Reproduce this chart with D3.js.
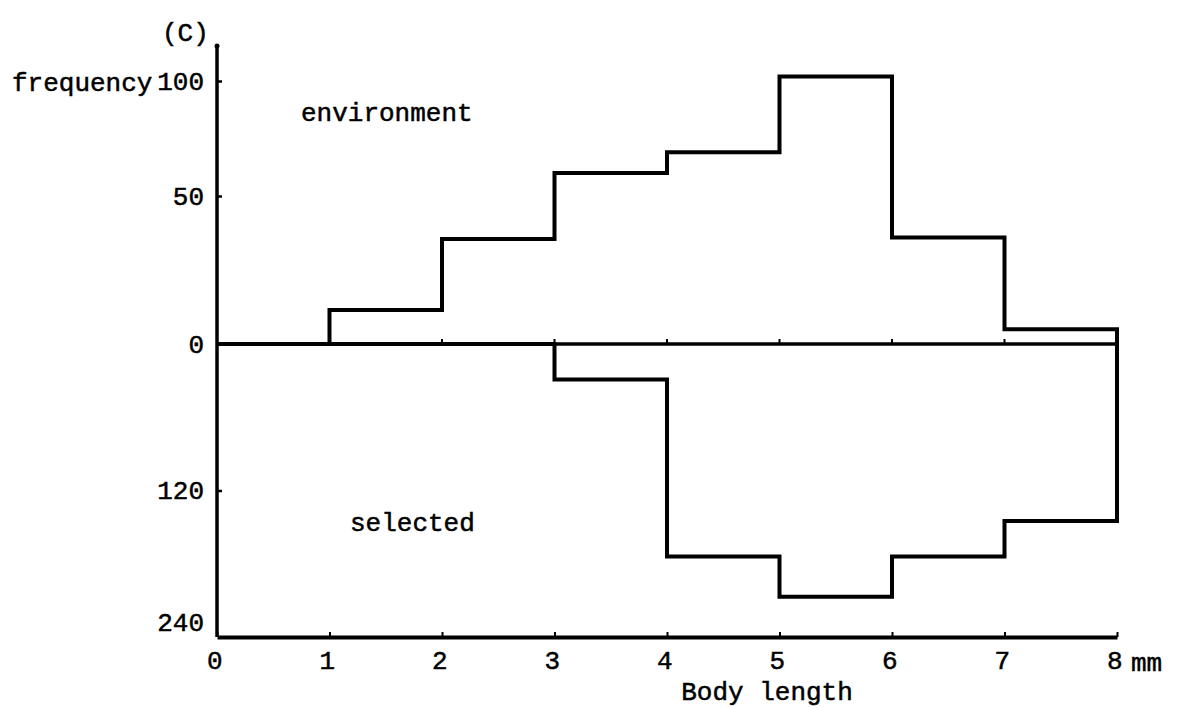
<!DOCTYPE html>
<html>
<head>
<meta charset="utf-8">
<script src="https://cdn.jsdelivr.net/npm/d3@7"></script>
<style>
  html, body { margin: 0; padding: 0; background: #fff; }
  svg { display: block; }
  text { font-family: "Liberation Mono", "Courier New", monospace; fill: #000; stroke: #000; stroke-width: 0.5px; }
</style>
</head>
<body>
<svg id="chart" width="1192" height="708"></svg>
<script>
// ---- data ----
const binEdges = [0, 1, 2, 3, 4, 5, 6, 7, 8];           // body length (mm)
const environment = [0, 11.5, 35.5, 60, 69, 102, 36, 5]; // frequency per bin (upper)
const selected = [0, 0, 0, 29, 174, 207, 174, 145];      // frequency per bin (lower)
const xTicks = [0, 1, 2, 3, 4, 5, 6, 7, 8];
const yUpTicks = [0, 50, 100];
const yDownTicks = [120, 240];

const svg = d3.select("#chart");

// scales (the printed upper axis is not evenly spaced, so it is piecewise)
const x = d3.scaleLinear().domain([0, 8]).range([217, 1117]);
const yUp = d3.scaleLinear().domain([0, 50, 100]).range([344, 196, 81]);
const yDown = d3.scaleLinear().domain([0, 240]).range([344, 637]);

// y axis line
svg.append("line")
  .attr("x1", x(0)).attr("x2", x(0))
  .attr("y1", 45).attr("y2", yDown(240))
  .attr("stroke", "#000").attr("stroke-width", 3.5);
svg.append("circle").attr("cx", x(0)).attr("cy", 46).attr("r", 2.5).attr("fill", "#000");

// upper y ticks
const gUp = svg.append("g").attr("transform", `translate(${x(0)},0)`)
  .call(d3.axisLeft(yUp).tickValues(yUpTicks).tickSizeInner(-5).tickSizeOuter(0).tickPadding(13).tickFormat(d3.format("d")));
// lower y ticks
const gDown = svg.append("g").attr("transform", `translate(${x(0)},0)`)
  .call(d3.axisLeft(yDown).tickValues(yDownTicks).tickSizeInner(-5).tickSizeOuter(0).tickPadding(13).tickFormat(d3.format("d")));
[gUp, gDown].forEach(g => {
  g.select(".domain").remove();
  g.selectAll(".tick line").attr("stroke", "#000").attr("stroke-width", 2.5);
  g.selectAll(".tick text").style("font-family", '"Liberation Mono", monospace')
    .style("font-size", "26px").attr("fill", "#000");
});
gDown.selectAll(".tick").filter(d => d === 240).select("text").attr("dy", "-0.25em");
gDown.selectAll(".tick").filter(d => d === 240).select("line").remove();

// bottom x axis
const gx = svg.append("g").attr("transform", `translate(0,${yDown(240)})`)
  .call(d3.axisBottom(x).tickValues(xTicks).tickSizeInner(-5).tickSizeOuter(0).tickPadding(14).tickFormat(d3.format("d")));
gx.select(".domain").attr("stroke", "#000").attr("stroke-width", 4);
gx.selectAll(".tick line").attr("stroke", "#000").attr("stroke-width", 2);
gx.selectAll(".tick text").style("font-family", '"Liberation Mono", monospace')
  .style("font-size", "26px").attr("fill", "#000").attr("dx", "-0.1em");

// zero baseline with small ticks
svg.append("line")
  .attr("x1", x(0)).attr("x2", x(8))
  .attr("y1", yUp(0)).attr("y2", yUp(0))
  .attr("stroke", "#000").attr("stroke-width", 3.5);
svg.append("g").selectAll("line").data(xTicks.slice(1)).join("line")
  .attr("x1", d => x(d)).attr("x2", d => x(d))
  .attr("y1", yUp(0)).attr("y2", yUp(0) - 5)
  .attr("stroke", "#000").attr("stroke-width", 2);

// step outlines
function stepPoints(vals) {
  const pts = vals.map((v, i) => [binEdges[i], v]);
  pts.push([binEdges[binEdges.length - 1], vals[vals.length - 1]]);
  pts.push([binEdges[binEdges.length - 1], 0]);
  return pts;
}
const lineUp = d3.line().x(d => x(d[0])).y(d => yUp(d[1])).curve(d3.curveStepAfter);
const lineDown = d3.line().x(d => x(d[0])).y(d => yDown(d[1])).curve(d3.curveStepAfter);

svg.append("path").datum(stepPoints(environment))
  .attr("d", lineUp).attr("fill", "none").attr("stroke", "#000")
  .attr("stroke-width", 4).attr("stroke-linejoin", "miter");
svg.append("path").datum(stepPoints(selected))
  .attr("d", lineDown).attr("fill", "none").attr("stroke", "#000")
  .attr("stroke-width", 4).attr("stroke-linejoin", "miter");

// texts
const T = (t, xx, yy, anchor) => svg.append("text").text(t)
  .attr("x", xx).attr("y", yy).attr("text-anchor", anchor || "start")
  .style("font-size", "26px");
T("(C)", 162, 41);
T("frequency", 12, 91);
T("environment", 301, 121);
T("selected", 350, 531);
T("mm", 1131, 671);
T("Body length", 767, 700, "middle");
</script>
</body>
</html>
